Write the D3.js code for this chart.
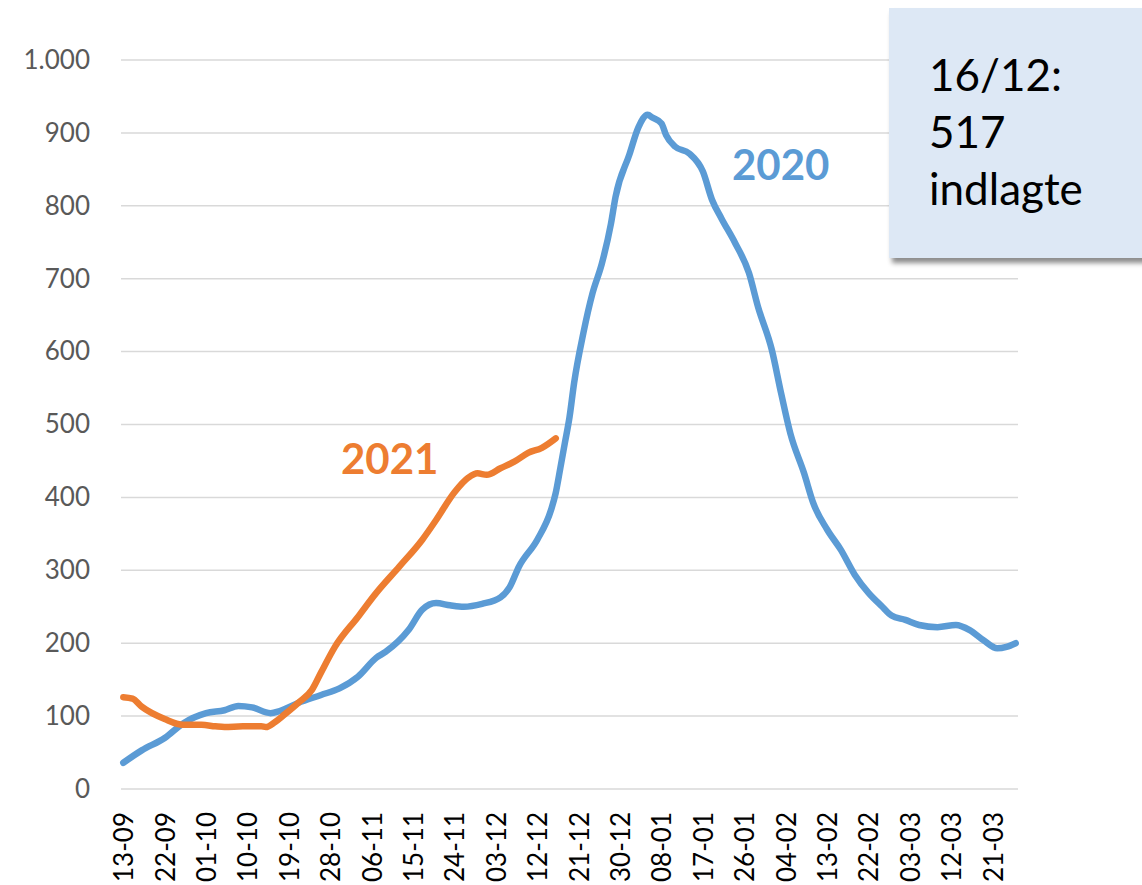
<!DOCTYPE html>
<html>
<head>
<meta charset="utf-8">
<script src="https://cdn.jsdelivr.net/npm/d3@7"></script>
<style>
  body { margin: 0; background: #fff; }
  svg { display: block; font-family: Lato, "Open Sans", sans-serif; }
</style>
</head>
<body>
<div id="chart"></div>
<script>
// x tick labels (every 9th day)
const tickLabels = ["13-09", "22-09", "01-10", "10-10", "19-10", "28-10", "06-11", "15-11",
  "24-11", "03-12", "12-12", "21-12", "30-12", "08-01", "17-01", "26-01", "04-02", "13-02",
  "22-02", "03-03", "12-03", "21-03"];

const yTicks = [0, 100, 200, 300, 400, 500, 600, 700, 800, 900, 1000];

// 2020 season (blue)
const dates2020 = ["13-09", "17-09", "22-09", "26-09", "01-10", "05-10", "08-10", "11-10",
  "15-10", "17-10", "21-10", "26-10", "30-10", "03-11", "07-11", "09-11", "14-11", "17-11",
  "20-11", "23-11", "26-11", "30-11", "04-12", "06-12", "08-12", "12-12", "15-12", "16-12",
  "17-12", "18-12", "19-12", "20-12", "22-12", "24-12", "26-12", "28-12", "29-12", "01-01",
  "03-01", "05-01", "06-01", "08-01", "09-01", "11-01", "14-01", "17-01", "19-01", "21-01",
  "24-01", "27-01", "29-01", "01-02", "03-02", "05-02", "08-02", "10-02", "13-02", "16-02",
  "19-02", "22-02", "25-02", "27-02", "02-03", "05-03", "09-03", "13-03", "16-03", "19-03",
  "22-03", "24-03", "26-03"];
const values2020 = [36, 53, 70, 90, 104, 108, 114, 112,
  104, 107, 118, 129, 138, 154, 180, 188, 218, 246,
  255, 252, 250, 254, 263, 277, 305, 342, 383, 406,
  440, 475, 510, 557, 625, 680, 720, 775, 812, 870,
  908, 925, 921, 913, 897, 881, 872, 847, 808, 783,
  749, 708, 661, 602, 543, 488, 433, 392, 356, 328,
  294, 269, 250, 238, 232, 225, 222, 225, 218, 204,
  193, 195, 200];

// 2021 season (orange)
const dates2021 = ["13-09", "15-09", "17-09", "22-09", "26-09", "30-09", "03-10", "05-10",
  "09-10", "13-10", "14-10", "16-10", "18-10", "21-10", "24-10", "26-10", "29-10", "03-11",
  "07-11", "12-11", "17-11", "20-11", "24-11", "27-11", "29-11", "01-12", "04-12", "07-12",
  "10-12", "13-12", "16-12"];
const values2021 = [126, 124, 113, 96, 88, 88, 86, 85,
  86, 86, 85, 92, 102, 118, 136, 160, 195, 236,
  269, 305, 342, 369, 407, 427, 433, 431, 440, 449,
  461, 468, 481];

const width = 1142, height = 885;
const fmtDay = d3.timeFormat("%d-%m");
const allDays = d3.timeDay.range(new Date(2020, 8, 13), new Date(2021, 2, 27)).map(fmtDay);
const dk = d3.formatLocale({ decimal: ",", thousands: ".", grouping: [3], currency: ["", " kr"] });

const svg = d3.select("#chart").append("svg")
  .attr("width", width)
  .attr("height", height);

const defs = svg.append("defs");
const shadow = defs.append("filter").attr("id", "shadow")
  .attr("x", "-10%").attr("y", "-10%").attr("width", "130%").attr("height", "130%");
shadow.append("feDropShadow")
  .attr("dx", 3).attr("dy", 5).attr("stdDeviation", 2.5)
  .attr("flood-color", "#000").attr("flood-opacity", 0.45);

const x = d3.scalePoint().domain(allDays).range([121, 1018]).padding(0.5);
const y = d3.scaleLinear().domain([0, 1000]).range([789, 60]);

// gridlines
svg.append("g")
  .selectAll("line")
  .data(yTicks)
  .enter()
  .append("line")
  .attr("x1", 121).attr("x2", 1018)
  .attr("y1", d => y(d)).attr("y2", d => y(d))
  .attr("stroke", "#d9d9d9")
  .attr("stroke-width", 1.5);

// y axis
const yAxis = svg.append("g")
  .attr("transform", "translate(90,0)")
  .call(d3.axisLeft(y).tickValues(yTicks).tickSize(0).tickPadding(0).tickFormat(dk.format(",")));
yAxis.select(".domain").remove();
yAxis.selectAll("text")
  .attr("fill", "#595959")
  .style("font-size", "26px")
  .style("font-family", "Lato, sans-serif");

// x axis
const xAxis = svg.append("g")
  .attr("transform", "translate(0,789)")
  .call(d3.axisBottom(x).tickValues(tickLabels).tickSize(0));
xAxis.select(".domain").remove();
xAxis.selectAll("text")
  .attr("transform", "rotate(-90)")
  .attr("x", -23)
  .attr("y", 0)
  .attr("dy", "0.36em")
  .attr("text-anchor", "end")
  .attr("fill", "#000")
  .style("font-size", "26px")
  .style("font-family", "Lato, sans-serif");

const line = d3.line()
  .x(d => x(d[0]))
  .y(d => y(d[1]))
  .curve(d3.curveMonotoneX);

svg.append("path")
  .datum(d3.zip(dates2020, values2020))
  .attr("d", line)
  .attr("fill", "none")
  .attr("stroke", "#5b9bd5")
  .attr("stroke-width", 6.5)
  .attr("stroke-linejoin", "round")
  .attr("stroke-linecap", "round");

svg.append("path")
  .datum(d3.zip(dates2021, values2021))
  .attr("d", line)
  .attr("fill", "none")
  .attr("stroke", "#ed7d31")
  .attr("stroke-width", 6.5)
  .attr("stroke-linejoin", "round")
  .attr("stroke-linecap", "round");

// series labels
svg.append("text")
  .attr("x", 341).attr("y", 474)
  .attr("fill", "#ed7d31")
  .style("font-size", "42px").style("font-weight", "bold")
  .text("2021");

svg.append("text")
  .attr("x", 732).attr("y", 180)
  .attr("fill", "#5b9bd5")
  .style("font-size", "42px").style("font-weight", "bold")
  .text("2020");

// annotation box
svg.append("rect")
  .attr("x", 889).attr("y", 8)
  .attr("width", 270).attr("height", 250)
  .attr("fill", "#dde8f5")
  .attr("filter", "url(#shadow)");

const note = svg.append("text")
  .attr("x", 929).attr("y", 91)
  .attr("fill", "#000")
  .style("font-size", "44px");
["16/12:", "517", "indlagte"].forEach((t, i) => {
  note.append("tspan").attr("x", 929).attr("dy", i === 0 ? 0 : 57).text(t);
});
</script>
</body>
</html>
